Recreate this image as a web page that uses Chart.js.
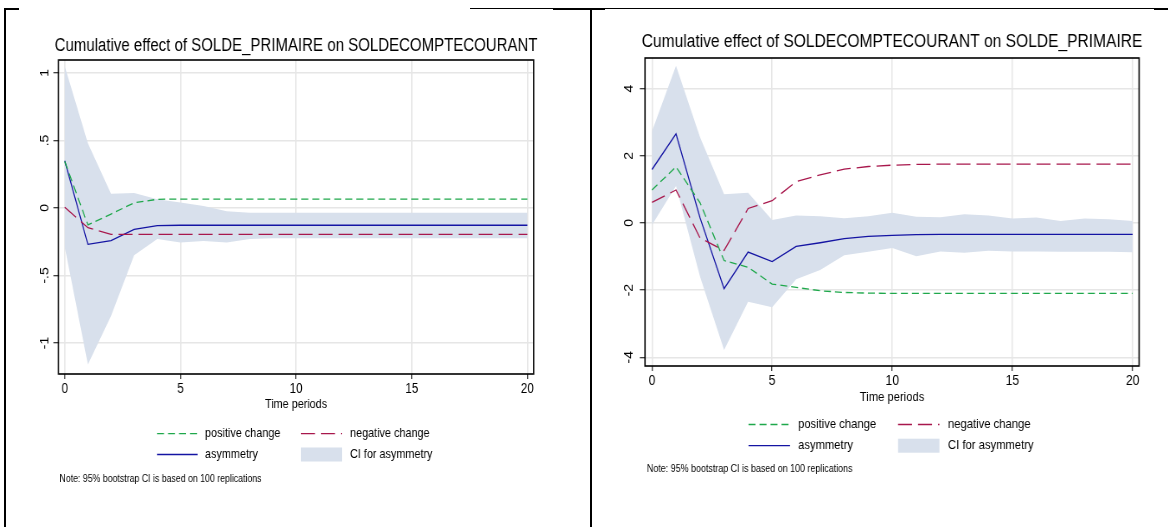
<!DOCTYPE html>
<html>
<head>
<meta charset="utf-8">
<script src="https://cdn.jsdelivr.net/npm/chart.js@4.4.1/dist/chart.umd.min.js"></script>
<style>
  html, body { margin: 0; padding: 0; background: #fff; }
  body { width: 1168px; height: 527px; position: relative; overflow: hidden; }
  canvas { position: absolute; top: 0; transform-origin: 0 0; }
  .rule { position: absolute; background: #000; }
</style>
</head>
<body>
<div class="rule" style="left:4px;top:8px;width:2px;height:519px"></div>
<div class="rule" style="left:4px;top:8px;width:15px;height:2px"></div>
<div class="rule" style="left:470px;top:8px;width:698px;height:1px"></div>
<div class="rule" style="left:553px;top:8px;width:52px;height:2px"></div>
<div class="rule" style="left:590px;top:8px;width:2px;height:519px"></div>
<div class="rule" style="left:1154px;top:8px;width:14px;height:2px"></div>
<canvas id="left" height="527"></canvas>
<canvas id="right" height="527"></canvas>
<script>
const FONT = "'Liberation Sans', Arial, sans-serif";
const GREEN = '#1fa84b';
const MAROON = '#a8174c';
const NAVY = '#1414a3';
const CI_FILL = '#d8e0ec';
const GRID = '#e6e6e6';
const NOTE = 'Note: 95% bootstrap CI is based on 100 replications';

const periods = [0, 1, 2, 3, 4, 5, 6, 7, 8, 9, 10, 11, 12, 13, 14, 15, 16, 17, 18, 19, 20];
const xTickValues = [0, 5, 10, 15, 20];

// cumulative effect of SOLDE_PRIMAIRE on SOLDECOMPTECOURANT
const leftPositive = [0.345, -0.126, -0.045, 0.038, 0.064, 0.066, 0.066,
  0.066, 0.066, 0.066, 0.066, 0.066, 0.066, 0.066,
  0.066, 0.066, 0.066, 0.066, 0.066, 0.066, 0.066];
const leftNegative = [0.005, -0.146, -0.195, -0.195, -0.195, -0.195, -0.195,
  -0.195, -0.195, -0.195, -0.195, -0.195, -0.195, -0.195,
  -0.195, -0.195, -0.195, -0.195, -0.195, -0.195, -0.195];
const leftAsymmetry = [0.35, -0.27, -0.242, -0.158, -0.131, -0.128, -0.128,
  -0.128, -0.128, -0.128, -0.128, -0.128, -0.128, -0.128,
  -0.128, -0.128, -0.128, -0.128, -0.128, -0.128, -0.128];
const leftCiUpper = [1.05, 0.48, 0.105, 0.11, 0.065, 0.04, 0.015,
  -0.025, -0.035, -0.035, -0.035, -0.035, -0.035, -0.035,
  -0.035, -0.035, -0.035, -0.035, -0.035, -0.035, -0.035];
const leftCiLower = [-0.29, -1.16, -0.8, -0.35, -0.23, -0.255, -0.245,
  -0.255, -0.23, -0.225, -0.225, -0.225, -0.225, -0.225,
  -0.225, -0.225, -0.225, -0.225, -0.225, -0.225, -0.225];
const leftYTicks = [-1, -0.5, 0, 0.5, 1];

// cumulative effect of SOLDECOMPTECOURANT on SOLDE_PRIMAIRE
const rightPositive = [0.98, 1.67, 0.6, -1.12, -1.32, -1.82, -1.92,
  -2.02, -2.07, -2.09, -2.1, -2.1, -2.1, -2.1,
  -2.1, -2.1, -2.1, -2.1, -2.1, -2.1, -2.1];
const rightNegative = [0.61, 0.98, -0.45, -0.82, 0.43, 0.66, 1.23,
  1.43, 1.6, 1.68, 1.72, 1.74, 1.75, 1.75,
  1.75, 1.75, 1.75, 1.75, 1.75, 1.75, 1.75];
const rightAsymmetry = [1.59, 2.65, 0.15, -1.96, -0.87, -1.15, -0.7,
  -0.59, -0.47, -0.4, -0.37, -0.35, -0.34, -0.34,
  -0.34, -0.34, -0.34, -0.34, -0.34, -0.34, -0.34];
const rightCiUpper = [2.73, 4.68, 2.55, 0.85, 0.9, 0.09, 0.22,
  0.2, 0.14, 0.2, 0.3, 0.18, 0.17, 0.26,
  0.22, 0.13, 0.16, 0.06, 0.13, 0.11, 0.06];
const rightCiLower = [-0.06, 1.1, -1.6, -3.78, -2.35, -2.51, -1.68,
  -1.4, -0.96, -0.86, -0.75, -0.99, -0.85, -0.89,
  -0.83, -0.85, -0.85, -0.86, -0.86, -0.86, -0.87];
const rightYTicks = [-4, -2, 0, 2, 4];

const toPoints = values => values.map((v, i) => ({ x: periods[i], y: v }));
const fmtY = v => (v === 0 ? '0' : String(v).replace(/^(-?)0\./, '$1.'));

// title, frame around plot region, stata-style 2x2 legend, note
const panelDecor = {
  id: 'panelDecor',
  afterDraw(chart, args, opts) {
    const { ctx, chartArea: a } = chart;
    const h = v => v / opts.k;
    ctx.save();
    ctx.strokeStyle = '#000';
    ctx.lineWidth = 1.6;
    ctx.setLineDash([]);
    ctx.strokeRect(a.left, a.top, a.right - a.left, a.bottom - a.top);

    ctx.fillStyle = '#000';
    ctx.font = `18px ${FONT}`;
    ctx.textAlign = 'center';
    ctx.textBaseline = 'middle';
    ctx.fillText(opts.title, (a.left + a.right) / 2, opts.titleY);

    ctx.textAlign = 'left';
    ctx.font = `13px ${FONT}`;
    [0, 1, 2, 3].forEach((dsIndex, i) => {
      const ds = chart.data.datasets[dsIndex];
      const col = opts.cols[i % 2];
      const y = opts.rows[Math.floor(i / 2)];
      if (ds.fill) {
        ctx.fillStyle = ds.backgroundColor;
        ctx.fillRect(h(col.x1), y - 7, h(col.x2 - col.x1), 14);
      } else {
        ctx.strokeStyle = ds.borderColor;
        ctx.lineWidth = ds.borderWidth;
        ctx.setLineDash(ds.borderDash);
        ctx.beginPath();
        ctx.moveTo(h(col.x1), y);
        ctx.lineTo(h(col.x2), y);
        ctx.stroke();
      }
      ctx.fillStyle = '#000';
      ctx.fillText(ds.label, h(col.tx), y);
    });

    ctx.font = `${opts.noteSize}px ${FONT}`;
    ctx.fillText(NOTE, h(opts.note.x), opts.note.y);
    ctx.restore();
  }
};

function makeChart(id, p) {
  // the source graph is squeezed sideways: draw wide, then compress with css
  const h = v => v / p.k;
  const canvas = document.getElementById(id);
  canvas.width = Math.round(h(p.width));
  canvas.style.left = p.left + 'px';
  canvas.style.transform = `scaleX(${p.k})`;

  const line = (label, values, color, dash) => ({
    label, data: toPoints(values), borderColor: color, borderWidth: 1.3,
    borderDash: dash.map(h), pointRadius: 0, tension: 0, fill: false
  });
  return new Chart(canvas, {
    type: 'line',
    data: {
      datasets: [
        line('positive change', p.positive, GREEN, [7, 4]),
        line('negative change', p.negative, MAROON, [14, 6]),
        line('asymmetry', p.asymmetry, NAVY, []),
        { label: 'CI for asymmetry', data: toPoints(p.ciUpper), borderColor: 'rgba(0,0,0,0)',
          borderWidth: 0, pointRadius: 0, backgroundColor: CI_FILL, fill: '+1' },
        { label: 'CI lower', data: toPoints(p.ciLower), borderColor: 'rgba(0,0,0,0)',
          borderWidth: 0, pointRadius: 0, fill: false }
      ]
    },
    options: {
      responsive: false,
      animation: false,
      devicePixelRatio: 1,
      events: [],
      layout: { padding: { left: 0, top: p.plotTop, right: h(p.width - p.plotRight), bottom: p.padBottom } },
      scales: {
        x: {
          type: 'linear', min: p.xMin, max: p.xMax,
          afterBuildTicks: s => { s.ticks = xTickValues.map(value => ({ value })); },
          afterFit: s => { s.height = 40; },
          ticks: { font: { family: FONT, size: 14 }, color: '#000', padding: p.xTickPad,
            autoSkip: false, minRotation: 0, maxRotation: 0, callback: v => String(v) },
          grid: { color: GRID, lineWidth: 1.5, tickColor: '#000', tickLength: 5, tickWidth: 1 },
          border: { display: false },
          title: { display: true, text: 'Time periods', font: { family: FONT, size: 13 },
            color: '#000', padding: { top: 0, bottom: p.xTitlePad } }
        },
        y: {
          type: 'linear', min: p.yMin, max: p.yMax,
          afterBuildTicks: s => { s.ticks = p.yTicks.map(value => ({ value })); },
          afterFit: s => { s.width = h(p.plotLeft); },
          ticks: { font: { family: FONT, size: 14 }, color: '#000', padding: p.yTickPad,
            autoSkip: false, minRotation: 90, maxRotation: 90, crossAlign: 'center', callback: fmtY },
          grid: { color: GRID, lineWidth: 1.5, tickColor: '#000', tickLength: 6, tickWidth: 1 },
          border: { display: false }
        }
      },
      plugins: {
        legend: { display: false },
        tooltip: { enabled: false },
        title: { display: false },
        panelDecor: { ...p.decor, k: p.k, title: p.title }
      }
    },
    plugins: [panelDecor]
  });
}

makeChart('left', {
  left: 5, width: 585, k: 0.834,
  title: 'Cumulative effect of SOLDE_PRIMAIRE on SOLDECOMPTECOURANT',
  positive: leftPositive, negative: leftNegative, asymmetry: leftAsymmetry,
  ciUpper: leftCiUpper, ciLower: leftCiLower, yTicks: leftYTicks,
  xMin: -0.27, xMax: 20.27, yMin: -1.23, yMax: 1.096,
  plotLeft: 53.5, plotRight: 529, plotTop: 60, padBottom: 113,
  yTickPad: 2.2, xTickPad: 1.5, xTitlePad: 1.6,
  decor: {
    titleY: 46,
    rows: [433.6, 454.5],
    cols: [{ x1: 152, x2: 192.6, tx: 200 }, { x1: 296, x2: 337, tx: 345 }],
    note: { x: 54.5, y: 479 }, noteSize: 10.5
  }
});

makeChart('right', {
  left: 592, width: 576, k: 0.865,
  title: 'Cumulative effect of SOLDECOMPTECOURANT on SOLDE_PRIMAIRE',
  positive: rightPositive, negative: rightNegative, asymmetry: rightAsymmetry,
  ciUpper: rightCiUpper, ciLower: rightCiLower, yTicks: rightYTicks,
  xMin: -0.29, xMax: 20.27, yMin: -4.26, yMax: 4.91,
  plotLeft: 53, plotRight: 547, plotTop: 58, padBottom: 121,
  yTickPad: 6.3, xTickPad: 1.5, xTitlePad: 1.0,
  decor: {
    titleY: 42,
    rows: [424.5, 445.7],
    cols: [{ x1: 156.5, x2: 198, tx: 206 }, { x1: 306, x2: 347.4, tx: 356 }],
    note: { x: 55, y: 469 }, noteSize: 10.3
  }
});
</script>
</body>
</html>
